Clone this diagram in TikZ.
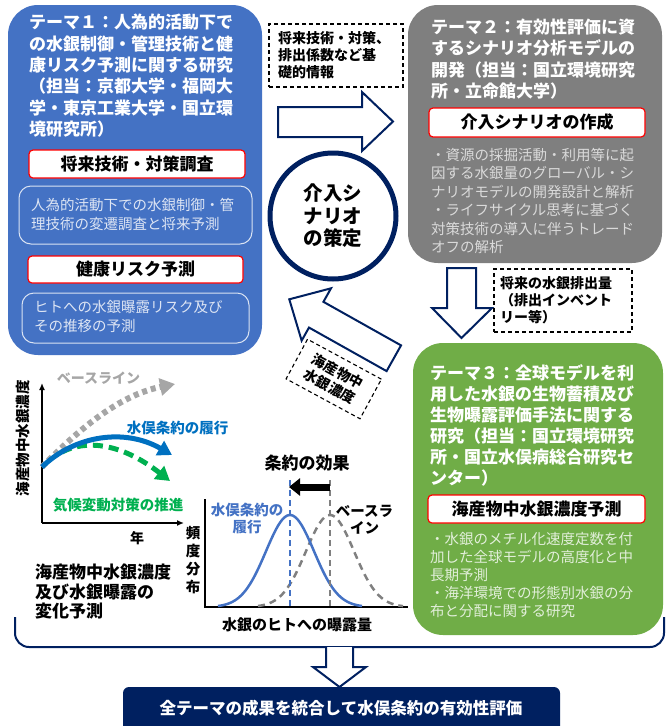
\documentclass[tikz,border=0pt]{standalone}
\usepackage{fontspec}
\setmainfont{Noto Sans CJK JP}
\usetikzlibrary{arrows.meta}
\definecolor{tblue}{HTML}{4472C4}
\definecolor{tgray}{HTML}{7F7F7F}
\definecolor{tgreen}{HTML}{70AD47}
\definecolor{navy}{HTML}{002060}
\definecolor{descgray}{HTML}{DADADA}
\definecolor{lblue}{HTML}{0070C0}
\definecolor{lgreen}{HTML}{00B050}
\definecolor{lgray}{HTML}{A6A6A6}
\definecolor{dgray}{HTML}{808080}
\tikzset{
  themebox/.style={rounded corners=30pt, inner sep=0pt},
  titletext/.style={anchor=north west, align=left, inner sep=0pt, text=white, font=\fontsize{17}{21.4}\selectfont\bfseries},
  desctext/.style={anchor=north west, align=left, inner sep=0pt, text=descgray, font=\fontsize{14.5}{18.5}\selectfont},
  redbox/.style={draw=red, line width=1.2pt, fill=white, rounded corners=4pt, inner sep=0pt, font=\fontsize{17}{20}\selectfont\bfseries},
  descbox/.style={draw=white!80!tblue, line width=1pt, rounded corners=12pt, inner sep=0pt},
  dbox/.style={draw=black, dash pattern=on 4pt off 3pt, line width=1.1pt, inner sep=0pt},
  boxtext/.style={anchor=north west, align=left, inner sep=0pt, font=\fontsize{14}{17}\selectfont\bfseries},
  blockarrow/.style={draw=navy, line width=2pt, fill=white, line join=miter},
  axisline/.style={line width=1.8pt, -{Latex[length=7pt,width=6pt]}},
  lbl/.style={inner sep=0pt, font=\fontsize{14.5}{17}\selectfont\bfseries, align=center},
}
\begin{document}
\begin{tikzpicture}[x=1pt,y=-1pt]
\useasboundingbox (0,0) rectangle (667,726);

% ---------------- Theme boxes
\node[themebox, fill=tblue, minimum width=254pt, minimum height=350pt] (t1) at (135,180) {};
\node[themebox, fill=tgray, minimum width=254pt, minimum height=258pt] (t2) at (535,134) {};
\node[themebox, fill=tgreen, minimum width=250pt, minimum height=292pt] (t3) at (538,489) {};

% Theme 1
\node[titletext] (t1title) at (29,14) {テーマ１：人為的活動下で\\の水銀制御・管理技術と健\\康リスク予測に関する研究\\（担当：京都大学・福岡大\\学・東京工業大学・国立環\\境研究所）};
\node[redbox, minimum width=216pt, minimum height=28pt] (r1) at (137,164) {将来技術・対策調査};
\node[descbox, minimum width=233pt, minimum height=58pt] (d1) at (135.5,215) {};
\node[desctext, text=white!82!tblue] (d1t) at (31,198.3) {人為的活動下での水銀制御・管\\理技術の変遷調査と将来予測};
\node[redbox, minimum width=215pt, minimum height=27pt] (r2) at (135.5,269.5) {健康リスク予測};
\node[descbox, minimum width=227pt, minimum height=50pt] (d2) at (135.5,318) {};
\node[desctext, text=white!82!tblue] (d2t) at (34,300.3) {ヒトへの水銀曝露リスク及び\\その推移の予測};

% Theme 2
\node[titletext, font=\fontsize{17}{21.2}\selectfont\bfseries] (t2title) at (431,18.9) {テーマ２：有効性評価に資\\するシナリオ分析モデルの\\開発（担当：国立環境研究\\所・立命館大学）};
\node[redbox, minimum width=216pt, minimum height=29pt] (r3) at (537,122.5) {介入シナリオの作成};
\node[desctext] (d3t) at (431,147.6) {・資源の採掘活動・利用等に起\\因する水銀量のグローバル・シ\\ナリオモデルの開発設計と解析\\・ライフサイクル思考に基づく\\対策技術の導入に伴うトレード\\オフの解析};

% Theme 3
\node[titletext, font=\fontsize{17}{21}\selectfont\bfseries] (t3title) at (430,363.9) {テーマ３：全球モデルを利\\用した水銀の生物蓄積及び\\生物曝露評価手法に関する\\研究（担当：国立環境研究\\所・国立水俣病総合研究セ\\ンター）};
\node[redbox, minimum width=217pt, minimum height=28pt] (r4) at (536.5,509) {海産物中水銀濃度予測};
\node[desctext, text=white!80!tgreen, font=\fontsize{14.5}{18}\selectfont] (d4t) at (430,532.3) {・水銀のメチル化速度定数を付\\加した全球モデルの高度化と中\\長期予測\\・海洋環境での形態別水銀の分\\布と分配に関する研究};

% ---------------- Center: circle and arrows
\node[circle, draw=navy, line width=5pt, minimum size=126pt, inner sep=0pt, align=center,
      font=\fontsize{19.5}{22.5}\selectfont\bfseries] (c) at (333,216) {介入シ\\ナリオ\\の策定};

\node[dbox, minimum width=134pt, minimum height=63pt] (db1) at (336,55.5) {};
\node[boxtext] (db1t) at (278,31.5) {将来技術・対策、\\排出係数など基\\礎的情報};

\draw[blockarrow] (278,107) -- (362,107) -- (362,92) -- (393,121.5) -- (362,151) -- (362,137) -- (278,137) -- cycle;

\draw[blockarrow] (447,268) -- (476,268) -- (476,308) -- (492,308) -- (461.5,338) -- (432,308) -- (447,308) -- cycle;
\node[dbox, minimum width=138pt, minimum height=63pt] (db2) at (563,300.5) {};
\node[boxtext] (db2t) at (500,276.3) {将来の水銀排出量\\（排出インベント\\リー等）};

\begin{scope}[shift={(289.3,299.3)}, rotate=-29.3]
  \draw[blockarrow] (0,0) -- (31,-30) -- (31,-14.5) -- (120,-14.5) -- (120,15) -- (31,15) -- (31,30) -- cycle;
\end{scope}
\node[dbox, minimum width=84pt, minimum height=45pt, rotate=-28.4, align=center,
      font=\fontsize{14}{17}\selectfont\bfseries] (db3) at (333.75,379) {海産物中\\水銀濃度};

% ---------------- Left graph
\coordinate (o1) at (42,523);
\coordinate (y1) at (42,383);
\coordinate (x1) at (184,523);
\draw[axisline] (o1) -- (y1);
\draw[axisline] (o1) -- (x1);
\node[lbl, rotate=90] (ylab1) at (23,438) {海産物中水銀濃度};
\node[lbl, font=\fontsize{14}{17}\selectfont\bfseries] (xlab1) at (137,538) {年};

\coordinate (s1) at (42,467);
\coordinate (eb) at (175,384);
\coordinate (ebl) at (172,455);
\coordinate (s2) at (62,452);
\coordinate (eg) at (170,481);
\draw[lgray, line width=6pt, dash pattern=on 5pt off 4pt, -{Triangle[length=15pt,width=17pt]}]
  (s1) .. controls (80,428) and (120,395) .. (eb);
\draw[lgreen, line width=5pt, dash pattern=on 10pt off 6pt, -{Triangle[length=14pt,width=16pt]}]
  (s2) .. controls (85,440) and (120,442) .. (eg);
\draw[lblue, line width=5pt, -{Triangle[length=14pt,width=16pt]}]
  (s1) .. controls (75,435) and (125,428) .. (ebl);
\node[lbl, text=lgray, font=\fontsize{14}{17}\selectfont\bfseries] (lb1) at (98.5,378) {ベースライン};
\node[lbl, text=lblue] (lb2) at (177.5,428) {水俣条約の履行};
\node[lbl, text=lgreen] (lb3) at (118,505) {気候変動対策の推進};

\node[anchor=north west, align=left, inner sep=0pt, font=\fontsize{17}{19.5}\selectfont\bfseries] (bl) at (35,564.2) {海産物中水銀濃度\\及び水銀曝露の\\変化予測};

% ---------------- Right graph
\coordinate (o2) at (205,607);
\coordinate (y2) at (205,499);
\coordinate (x2) at (408,607);
\draw[line width=2.5pt] (y2) -- (o2) -- (x2);
\draw[dgray, line width=2.5pt, dash pattern=on 7pt off 5pt] plot[domain=258:403, samples=80, smooth] (\x, {607-92*exp(-((\x-330)*(\x-330))/1152)});
\draw[tblue, line width=2.5pt] plot[domain=218:362, samples=80, smooth] (\x, {607-92*exp(-((\x-290)*(\x-290))/1152)});
\coordinate (vb) at (290,480);
\coordinate (vbb) at (290,607);
\coordinate (vg) at (330,480);
\coordinate (vgb) at (330,607);
\draw[tblue, line width=2pt, dash pattern=on 6pt off 4pt] (vb) -- (vbb);
\draw[dgray, line width=2pt, dash pattern=on 6pt off 4pt] (vg) -- (vgb);
\coordinate (ka) at (330,487);
\coordinate (kb) at (289,487);
\draw[line width=7pt, -{Triangle[length=11pt,width=17pt]}] (ka) -- (kb);
\node[lbl, font=\fontsize{17}{20}\selectfont\bfseries] (eff) at (307,463) {条約の効果};
\node[lbl, text=tblue] (rl1) at (247,518.5) {水俣条約の\\履行};
\node[lbl] (rl2) at (364.5,520) {ベースラ\\イン};
\node[lbl, font=\fontsize{14.5}{18}\selectfont\bfseries] (ylab2) at (193,560) {頻\\度\\分\\布};
\node[lbl, font=\fontsize{15}{18}\selectfont\bfseries] (xlab2) at (297,625) {水銀のヒトへの曝露量};

% ---------------- Bracket and bottom
\coordinate (bkl) at (15,617);
\coordinate (bkr) at (664,617);
\draw[navy, line width=2pt, rounded corners=14pt] (bkl) -- (15,647) -- (664,647) -- (bkr);
\draw[blockarrow] (326,647) -- (326,667) -- (313,667) -- (339.5,687) -- (366,667) -- (353,667) -- (353,647);
\node[fill=navy, rounded corners=6pt, minimum width=437pt, minimum height=46pt, inner sep=0pt] (bar) at (341.5,710) {};
\node[text=white, inner sep=0pt, font=\fontsize{16.5}{20}\selectfont\bfseries] (bart) at (341,708) {全テーマの成果を統合して水俣条約の有効性評価};
\end{tikzpicture}
\end{document}
